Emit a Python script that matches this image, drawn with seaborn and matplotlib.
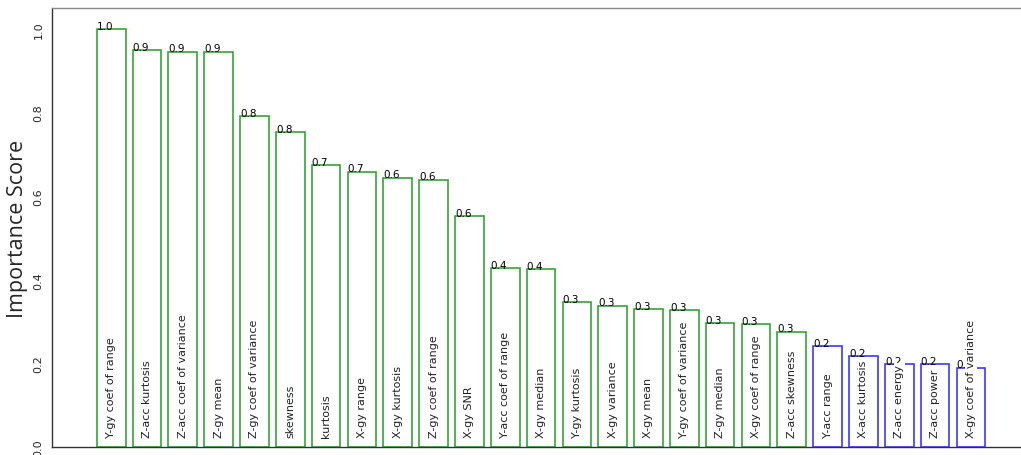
import matplotlib
matplotlib.use("Agg")
import matplotlib.pyplot as plt
import seaborn as sns
import pandas as pd

features = [
    "Y-gy coef of range", "Z-acc kurtosis", "Z-acc coef of variance", "Z-gy mean",
    "Z-gy coef of variance", "skewness", "kurtosis", "X-gy range", "X-gy kurtosis",
    "Z-gy coef of range", "X-gy SNR", "Y-acc coef of range", "X-gy median",
    "Y-gy kurtosis", "X-gy variance", "X-gy mean", "Y-gy coef of variance",
    "Z-gy median", "X-gy coef of range", "Z-acc skewness", "Y-acc range",
    "X-acc kurtosis", "Z-acc energy", "Z-acc power", "X-gy coef of variance",
]
scores = [
    1.000, 0.950, 0.946, 0.946, 0.792, 0.754, 0.674, 0.659, 0.644, 0.640,
    0.553, 0.428, 0.425, 0.346, 0.338, 0.329, 0.328, 0.297, 0.294, 0.276,
    0.241, 0.218, 0.199, 0.199, 0.190,
]
groups = ["selected"] * 20 + ["other"] * 5
group_colors = {"selected": "#33a533", "other": "#3a3aff"}

df = pd.DataFrame({"feature": features, "score": scores, "group": groups})

sns.set_style("white")
fig = plt.figure(figsize=(10.21, 4.56), dpi=100)
ax = fig.add_axes([0.051, 0.0175, 0.949, 0.9625])

sns.barplot(data=df, x="feature", y="score", hue="group", palette=group_colors,
            fill=False, dodge=False, legend=False, width=0.8, linewidth=1.2, ax=ax)

for i, (name, val) in enumerate(zip(features, scores)):
    ax.text(i - 0.4, val - 0.004, f"{val:.1f}", fontsize=7.5, ha="left", va="bottom",
            color="black")
    ax.text(i, 0.025, name, rotation=90, fontsize=8, ha="center", va="bottom",
            color="#222222",
            bbox=dict(facecolor="white", edgecolor="none", pad=0.5))

ax.set_xlim(-1.65, 25.4)
ax.set_ylim(0, 1.05)
ax.set_xticks([])
ax.set_xlabel("")
ax.set_yticks([0.0, 0.2, 0.4, 0.6, 0.8, 1.0])
ax.set_yticklabels(["0.0", "0.2", "0.4", "0.6", "0.8", "1.0"], rotation=90,
                   va="center", fontsize=8)
ax.tick_params(axis="y", length=0, pad=6)
ax.set_ylabel("Importance Score", fontsize=15.5, family=["Open Sans", "DejaVu Sans"],
              labelpad=4)

ax.spines["right"].set_visible(False)
ax.spines["top"].set_color("#888888")
ax.spines["left"].set_color("#333333")
ax.spines["bottom"].set_color("#333333")
for s in ax.spines.values():
    s.set_linewidth(1.0)

fig.savefig("out.png", dpi=100)
